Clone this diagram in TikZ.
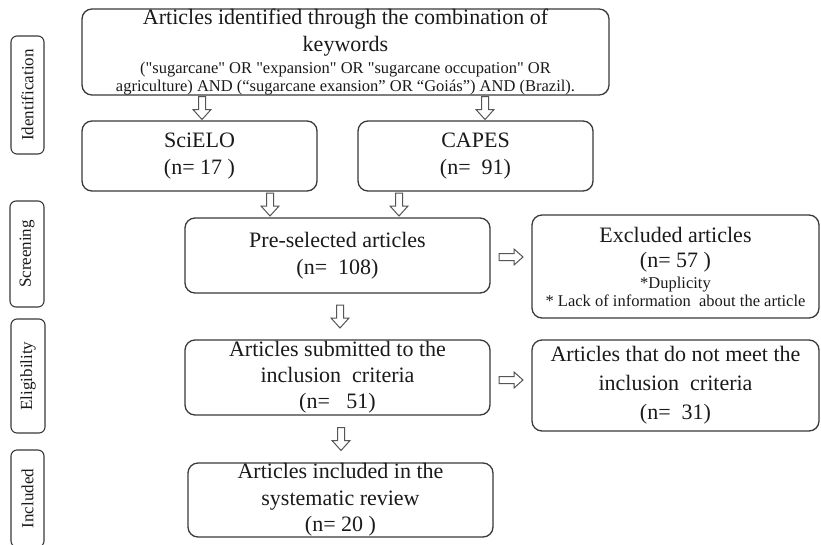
\documentclass[tikz,border=0pt]{standalone}
\usepackage{fontspec}
\setmainfont{Liberation Serif}[Ligatures=TeXOff]
\usetikzlibrary{calc}
\definecolor{ln}{HTML}{3A3A3A}
\definecolor{tx}{HTML}{1A1A1A}
\definecolor{ar}{HTML}{555555}
\tikzset{
  box/.style={draw=ln, line width=1.3pt, rounded corners=10pt, align=center,
    inner sep=0pt, text=tx, font=\fontsize{22}{27}\selectfont},
  side/.style={draw=ln, line width=1.1pt, rounded corners=6pt, inner sep=0pt,
    text=tx, font=\fontsize{17}{20}\selectfont},
  blk/.style={draw=ar, line width=1pt, fill=white, line join=miter},
}
\newcommand{\smallf}{\fontsize{16.5}{18}\selectfont}
\newcommand{\vblk}[3]{\draw[blk] let \p1=(#2), \p2=(#3), \n1={0.5*(\y1+\y2)} in
  ({#1pt-3.5pt},{\n1*1pt+11.5pt}) -- ({#1pt+3.5pt},{\n1*1pt+11.5pt})
  -- ({#1pt+3.5pt},{\n1*1pt-1.5pt}) -- ({#1pt+9pt},{\n1*1pt-1.5pt})
  -- ({#1pt},{\n1*1pt-11.5pt}) -- ({#1pt-9pt},{\n1*1pt-1.5pt})
  -- ({#1pt-3.5pt},{\n1*1pt-1.5pt}) -- cycle;}
\newcommand{\hblk}[3]{\draw[blk] let \p1=(#2), \p2=(#3), \n1={0.5*(\x1+\x2)} in
  ({\n1*1pt-12pt},{-#1pt+3.5pt}) -- ({\n1*1pt+3pt},{-#1pt+3.5pt})
  -- ({\n1*1pt+3pt},{-#1pt+8pt}) -- ({\n1*1pt+12pt},{-#1pt})
  -- ({\n1*1pt+3pt},{-#1pt-8pt}) -- ({\n1*1pt+3pt},{-#1pt-3.5pt})
  -- ({\n1*1pt-12pt},{-#1pt-3.5pt}) -- cycle;}
\begin{document}
\begin{tikzpicture}[x=1pt,y=-1pt]
\path[use as bounding box] (0,0) rectangle (821,544);
\clip (0,0) rectangle (821,544);
\fill[white] (0,0) rectangle (821,544);

% side labels
\node[side, rotate=90, minimum width=118pt, minimum height=33pt] (s1) at (27.5,95) {Identification};
\node[side, rotate=90, minimum width=106pt, minimum height=34pt] (s2) at (27,254) {Screening};
\node[side, rotate=90, minimum width=114pt, minimum height=34pt] (s3) at (28,376) {Eligibility};
\node[side, rotate=90, minimum width=97pt, minimum height=33pt] (s4) at (27.5,498.5) {Included};

% boxes
\node[box, minimum width=527pt, minimum height=86pt] (top) at (345.5,52) {Articles identified through the combination of\\ keywords\\[-5pt]
  {\smallf ("sugarcane" OR "expansion" OR "sugarcane occupation" OR}\\[-9pt]
  {\smallf agriculture)\ AND (“sugarcane exansion” OR “Goiás”) AND (Brazil).}};
\node[box, minimum width=235pt, minimum height=70pt] (sci) at (199.5,156) {SciELO\\(n= 17 )};
\node[box, minimum width=235pt, minimum height=70pt] (cap) at (475.5,156) {CAPES\\(n=\ \ 91)};
\node[box, minimum width=305pt, minimum height=75pt] (pre) at (337.5,255.5) {Pre-selected articles\\(n=\ \ 108)};
\node[box, minimum width=287pt, minimum height=103pt] (exc) at (675.5,266.5) {Excluded articles\\[-2pt](n= 57 )\\[-6pt]
  {\smallf *Duplicity}\\[-9pt]{\smallf * Lack of information\ \ about the article}};
\node[box, minimum width=305pt, minimum height=75pt, font=\fontsize{22}{26}\selectfont] (sub) at (337.5,377.5) {Articles submitted to the\\inclusion\ \ criteria\\(n=\ \ \ 51)};
\node[box, minimum width=287pt, minimum height=91pt, font=\fontsize{22}{29}\selectfont] (nm) at (675.5,385.5) {Articles that do not meet the\\inclusion\ \ criteria\\(n=\ \ 31)};
\node[box, minimum width=305pt, minimum height=74pt, font=\fontsize{22}{26.5}\selectfont] (inc) at (340.5,500) {Articles included in the\\systematic review\\(n= 20 )};

% connectors
\vblk{202}{top.south}{sci.north}
\vblk{485}{top.south}{cap.north}
\vblk{270}{sci.south}{pre.north}
\vblk{399}{cap.south}{pre.north}
\vblk{340}{pre.south}{sub.north}
\vblk{341}{sub.south}{inc.north}
\hblk{257}{pre.east}{exc.west}
\hblk{380}{sub.east}{nm.west}
\end{tikzpicture}
\end{document}
